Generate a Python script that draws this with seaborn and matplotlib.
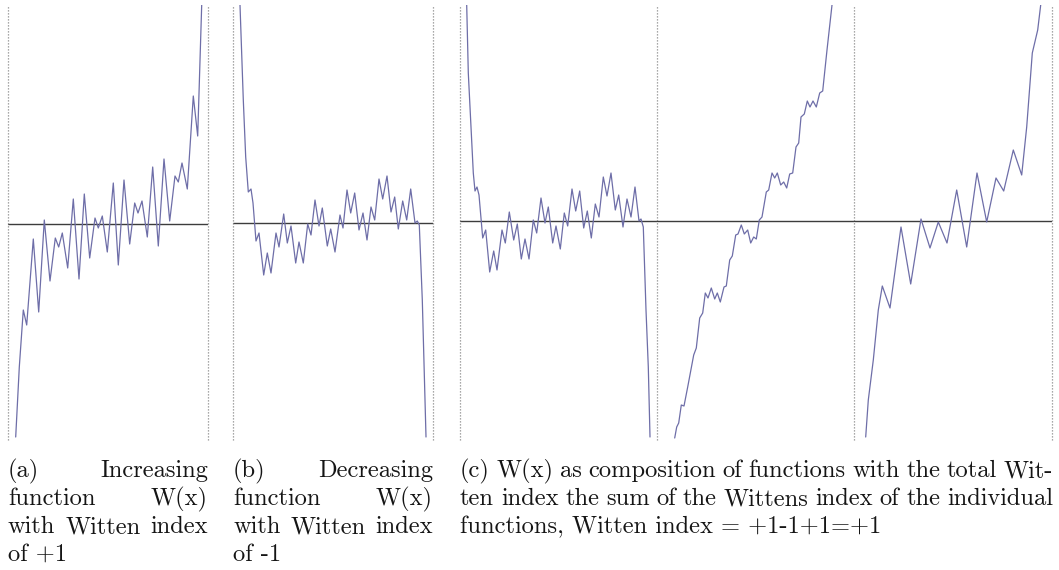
import matplotlib
matplotlib.use("Agg")
import matplotlib.pyplot as plt
import seaborn as sns
import pandas as pd

# ---------------- data (x in panel pixels, W = height above zero line) ----
A_X = [7.7, 11.3, 15.3, 18.7, 25.3, 30.7, 36.3, 42, 47.3, 50.7, 54.3, 59.7, 65.3, 71, 76.3, 81.7, 87,
       90.3, 94.3, 99.3, 105.3, 110.3, 116, 121.7, 126.7, 130, 134, 139.3, 144.7, 150.3, 156, 161.7,
       167, 170.3, 174, 179.3, 185.3, 189.7, 193.7]
A_W = [-213, -143, -86, -101, -15, -88, 4, -57, -14, -23, -9, -44, 25, -55, 30, -34, 6, -4, 8, -28,
       41, -41, 44, -20, 21, 11, 23, -13, 57, -22, 65, 3, 48, 42, 61, 35, 128, 88, 219]

B_X = [7, 10.3, 12.7, 15.3, 18, 20, 23, 26, 30.7, 34.3, 38, 43, 46, 50.7, 54.3, 58, 62.7, 66, 70.3,
       74.7, 78, 82, 86, 89.3, 94.3, 97.7, 102, 107, 110, 114, 117.7, 121.7, 126, 130, 134, 138,
       141.7, 146, 149.7, 154, 158, 161.7, 165.3, 169.7, 173.7, 177.7, 182, 184.3, 186.3, 189.3, 193]
B_W = [218, 123, 66, 31, 34, 20, -18, -10, -52, -30, -50, -10, -24, 9, -20, -3, -40, -19, -40, -1,
       -12, 23, -3, 15, -23, -6, -29, 8, -5, 33, 10, 30, -7, 10, -17, 16, 3, 44, 24, 47, 11, 26, -6,
       22, 3, 34, 0, 2, -2, -77, -214]

C1_X = [6.7, 8.3, 11, 13.3, 15, 17, 19, 22.7, 25.7, 29.7, 33.7, 37, 42, 45.3, 49.3, 53.7, 57.3, 61.3,
        65, 69, 73.3, 76.7, 81, 85, 88.3, 92.7, 96, 100.3, 104.3, 107.7, 112, 115.7, 119.7, 123.7,
        127.3, 131.3, 135.3, 139, 143.3, 147, 151, 155.3, 158.7, 163, 167, 171, 175, 179, 181, 183.3,
        186, 188.3, 190]
C1_W = [216, 148, 94, 48, 30, 34, 26, -17, -9, -51, -30, -49, -9, -22, 9, -19, -3, -38, -18, -38, 1,
        -12, 23, -2, 14, -22, -5, -28, 8, -5, 32, 10, 30, -7, 10, -17, 17, 4, 44, 25, 48, 11, 26, -6,
        22, 4, 34, 0, 2, -6, -89, -146, -216]

C2_X = [17.7, 19.7, 21.7, 24.3, 27, 30.7, 36.7, 39.3, 42.7, 45.7, 48.3, 51, 54.3, 57.7, 60.3, 63.3,
        67, 69.3, 72.7, 75.3, 78.7, 81, 84.3, 87.3, 90.7, 93.7, 96.7, 99.3, 102.3, 105, 109.3, 111.7,
        115, 117.7, 120.3, 123.7, 126.7, 129.7, 132.7, 135.7, 139, 141.7, 144, 147.3, 150.3, 153, 156,
        159.3, 162.7, 165.7, 170, 175]
C2_W = [-217, -206, -202, -184, -185, -166, -134, -127, -97, -92, -72, -77, -67, -78, -72, -81, -66,
        -65, -39, -35, -14, -13, -4, -13, -9, -22, -16, -18, 1, 4, 29, 31, 48, 43, 48, 36, 39, 33, 47,
        48, 74, 78, 104, 107, 120, 114, 120, 114, 128, 130, 171, 216]

C3_X = [11.7, 14.3, 19.3, 24.3, 28.3, 36, 47, 56.7, 67, 76, 84.3, 93, 102.7, 112.7, 123, 132.7, 142,
        149.7, 159.3, 167.7, 172.7, 178.3, 183.7, 186.7]
C3_W = [-216, -179, -139, -89, -65, -87, -6, -63, 2, -27, -1, -22, 31, -26, 48, -1, 43, 30, 71, 46,
        94, 168, 191, 216]

CAP_A = [["(a)", "Increasing"], ["function", "W(x)"], ["with", "Witten", "index"], "of +1"]
CAP_B = [["(b)", "Decreasing"], ["function", "W(x)"], ["with", "Witten", "index"], "of -1"]
CAP_C = ["(c) W(x) as composition of functions with the total Wit-",
         "ten index the sum of the Wittens index of the individual",
         "functions, Witten index = +1-1+1=+1"]

# ---------------- style ----------------
sns.set_theme(style="white")
plt.rcParams["font.family"] = ["cmr10", "DejaVu Serif"]
plt.rcParams["axes.formatter.use_mathtext"] = True

W_PX, H_PX = 1059, 570
CURVE = "#6e6ea8"
ZERO = "#3c3c3c"
DOT = "#8c8c8c"
FS = 17.6
TOP, BOT = 5, 440
BASELINES = [477, 505, 533, 561]

fig = plt.figure(figsize=(W_PX / 100, H_PX / 100), dpi=100)


def panel(x0, x1, zero_px, xs, ws, left_dot=True, right_dot=True):
    ax = fig.add_axes([x0 / W_PX, 1 - BOT / H_PX, (x1 - x0) / W_PX, (BOT - TOP) / H_PX])
    df = pd.DataFrame({"x": xs, "W": ws})
    sns.lineplot(data=df, x="x", y="W", ax=ax, color=CURVE, lw=0.9, sort=False, estimator=None)
    for ln in ax.get_lines():
        ln.set_solid_joinstyle("round")
    ax.axhline(0, color=ZERO, lw=1.0, zorder=1)
    ax.set_xlim(0, x1 - x0)
    ax.set_ylim(zero_px - BOT, zero_px - TOP)
    if left_dot:
        ax.axvline(0, color=DOT, lw=0.9, ls=(0, (1, 1.4)), clip_on=False)
    if right_dot:
        ax.axvline(x1 - x0, color=DOT, lw=0.9, ls=(0, (1, 1.4)), clip_on=False)
    ax.axis("off")
    return ax


panel(8, 208, 224, A_X, A_W)
panel(233, 433, 223, B_X, B_W)
panel(460, 657, 221, C1_X, C1_W)
panel(657, 854, 221, C2_X, C2_W, left_dot=False)
panel(854, 1052, 221, C3_X, C3_W, left_dot=False)


def put(x, y, s):
    return fig.text(x / W_PX, 1 - y / H_PX, s, ha="left", va="baseline",
                    fontsize=FS, color="#151515")


renderer = fig.canvas.get_renderer()


def justify(words, x0, x1, y):
    texts = [put(x0, y, w) for w in words]
    widths = [t.get_window_extent(renderer).width for t in texts]
    gap = (x1 - x0 - sum(widths)) / (len(words) - 1)
    x = x0
    for t, w in zip(texts, widths):
        t.set_position((x / W_PX, 1 - y / H_PX))
        x += w + gap


def caption(lines, x0, x1):
    for i, line in enumerate(lines):
        y = BASELINES[i]
        if isinstance(line, list):
            justify(line, x0, x1, y)
        elif i < len(lines) - 1:
            justify(line.split(" "), x0, x1, y)
        else:
            put(x0, y, line)


caption(CAP_A, 8, 208)
caption(CAP_B, 233, 433)
caption(CAP_C, 460, 1053)

fig.savefig("out.png", dpi=100, facecolor="white")
